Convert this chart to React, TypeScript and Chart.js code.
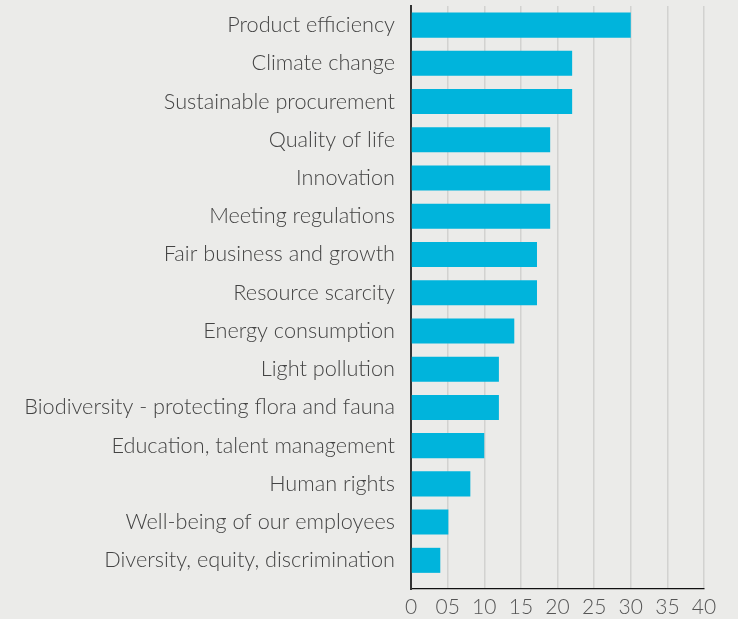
import React, { useEffect, useRef } from "react";
import { Chart, registerables } from "chart.js";

Chart.register(...registerables);

const categories = [
  "Product efficiency",
  "Climate change",
  "Sustainable procurement",
  "Quality of life",
  "Innovation",
  "Meeting regulations",
  "Fair business and growth",
  "Resource scarcity",
  "Energy consumption",
  "Light pollution",
  "Biodiversity - protecting flora and fauna",
  "Education, talent management",
  "Human rights",
  "Well-being of our employees",
  "Diversity, equity, discrimination",
];

const values = [30, 22, 22, 19, 19, 19, 17.2, 17.2, 14.1, 12, 12, 10, 8.1, 5.1, 4];

const tickLabels = ["0", "05", "10", "15", "20", "25", "30", "35", "40"];

const FONT = "Lato";

export default function App() {
  const ref = useRef<HTMLCanvasElement | null>(null);

  useEffect(() => {
    document.body.style.margin = "0";
    document.body.style.background = "#EBEBE9";
    const canvas = ref.current;
    if (!canvas) return;
    const bgPlugin = {
      id: "bg",
      beforeDraw(chart: any) {
        const { ctx, width, height } = chart;
        ctx.save();
        ctx.fillStyle = "#EBEBE9";
        ctx.fillRect(0, 0, width, height);
        ctx.restore();
      },
    };
    const chart = new Chart(canvas, {
      type: "bar",
      data: {
        labels: categories,
        datasets: [
          {
            data: values,
            backgroundColor: "#00B4DC",
            barPercentage: 0.655,
            categoryPercentage: 1,
          },
        ],
      },
      plugins: [bgPlugin],
      options: {
        indexAxis: "y",
        responsive: false,
        animation: false,
        layout: { padding: { top: 6, right: 34, bottom: 0, left: 0 } },
        plugins: { legend: { display: false }, tooltip: { enabled: false } },
        scales: {
          x: {
            min: 0,
            max: 40,
            afterFit: (scale: any) => {
              scale.height = 30;
            },
            ticks: {
              stepSize: 5,
              padding: 6,
              color: "#555555",
              font: { family: FONT, size: 21, weight: 300 },
              callback: (_v: any, i: number) => tickLabels[i],
            },
            grid: { color: "#D2D2D0", lineWidth: 1.5, drawTicks: false },
            border: { display: true, color: "#111111", width: 1.2 },
          },
          y: {
            afterBuildTicks: (scale: any) => {
              scale._valueRange = scale._valueRange + 0.25;
            },
            afterFit: (scale: any) => {
              scale.width = 411;
              scale.paddingTop = 0;
              scale.paddingBottom = 0;
            },
            ticks: {
              padding: 0,
              color: "#444444",
              font: { family: FONT, size: 21.7, weight: 300 },
            },
            grid: { display: false, drawTicks: true, tickLength: 16 },
            border: { display: true, color: "#333333", width: 2 },
          },
        },
      },
    } as any);
    return () => chart.destroy();
  }, []);

  return (
    <div style={{ width: 738, height: 619, background: "#EBEBE9" }}>
      <canvas ref={ref} width={738} height={619} />
    </div>
  );
}
